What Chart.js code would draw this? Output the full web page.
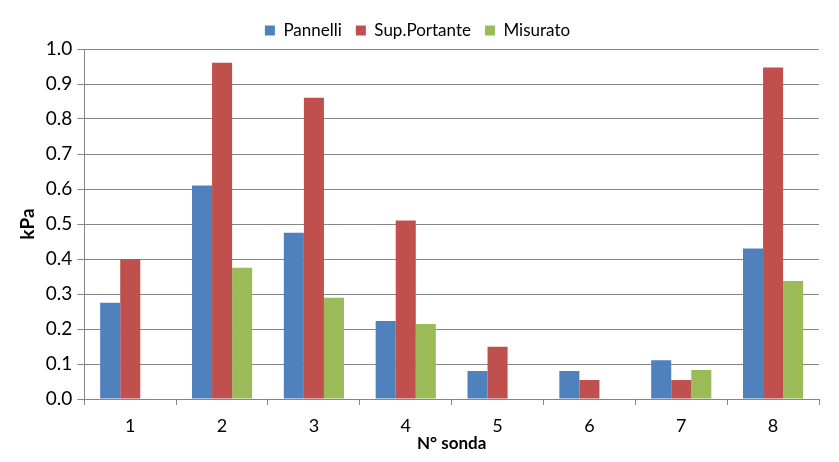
<!DOCTYPE html>
<html><head><meta charset="utf-8">
<script src="https://cdn.jsdelivr.net/npm/chart.js@4"></script>
<style>html,body{margin:0;padding:0;background:#fff}#wrap{width:839px;height:462px}</style>
</head><body><div id="wrap"><canvas id="c"></canvas></div>
<script>
const categories = ["1","2","3","4","5","6","7","8"];
const pannelli = [0.275,0.61,0.475,0.223,0.08,0.08,0.111,0.43];
const supPortante = [0.40,0.961,0.861,0.51,0.149,0.054,0.054,0.947];
const misurato = [null,0.375,0.289,0.214,null,null,0.083,0.337];
const seriesNames = ["Pannelli","Sup.Portante","Misurato"];
const FONT = "Lato, 'Open Sans', sans-serif";
new Chart(document.getElementById('c'), {
  type: 'bar',
  data: {
    labels: categories,
    datasets: [
      {label: seriesNames[0], data: pannelli, backgroundColor: '#4F81BD'},
      {label: seriesNames[1], data: supPortante, backgroundColor: '#C0504D'},
      {label: seriesNames[2], data: misurato, backgroundColor: '#9BBB59'}
    ]
  },
  options: {
    responsive: true, maintainAspectRatio: false, animation: false,
    layout: {padding: {left: 16, right: 20, top: 8, bottom: 8}},
    datasets: {bar: {categoryPercentage: 0.655, barPercentage: 1.0}},
    plugins: {
      tooltip: {enabled: false},
      legend: {position: 'top', labels: {boxWidth: 10, boxHeight: 10, padding: 14, color: '#000', font: {family: FONT, size: 17}}}
    },
    scales: {
      x: {
        grid: {display: true, drawOnChartArea: false, offset: true, tickLength: 6, color: '#868686'},
        border: {color: '#868686'},
        ticks: {color: '#000', font: {family: FONT, size: 18}, padding: 10},
        title: {display: true, text: 'N° sonda', color: '#000', font: {family: FONT, size: 17, weight: 'bold'}, padding: {top: -13, bottom: 0}}
      },
      y: {
        min: 0, max: 1.0,
        grid: {color: '#868686', tickLength: 7},
        border: {color: '#868686'},
        ticks: {stepSize: 0.1, color: '#000', font: {family: FONT, size: 19}, padding: 5, callback: v => v.toFixed(1)},
        title: {display: true, text: 'kPa', color: '#000', font: {family: FONT, size: 19, weight: 'bold'}, padding: {top: 0, bottom: 2}}
      }
    }
  }
});
</script></body></html>
